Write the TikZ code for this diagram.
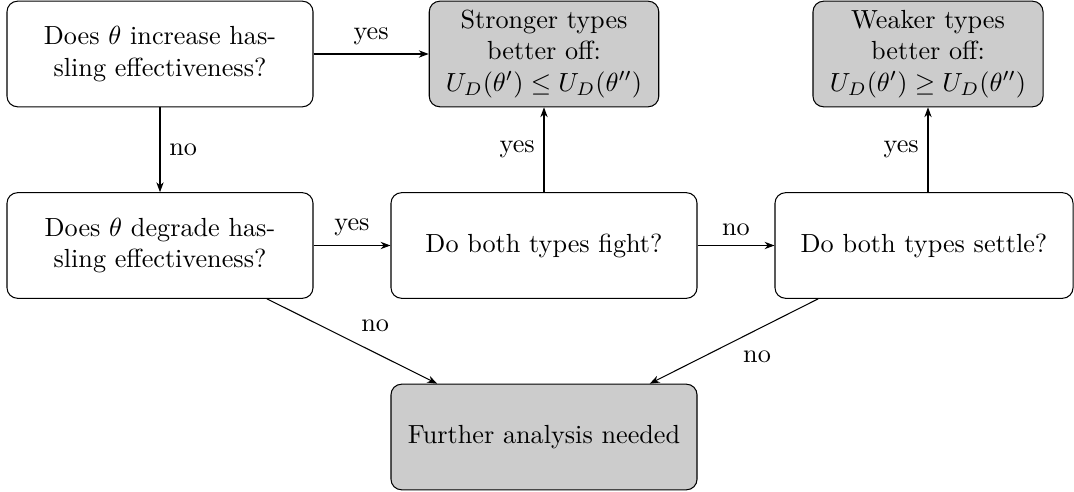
\documentclass[tikz,border=0pt]{standalone}
\usetikzlibrary{arrows.meta}
\begin{document}
\begin{tikzpicture}[x=0.3817pt,y=-0.3817pt,
  box/.style={draw, rounded corners=4pt, align=center, minimum height=40.3pt, inner xsep=3.33pt, inner ysep=2pt},
  result/.style={box, fill=gray!40},
  conn/.style={-{Stealth[length=3.8pt,width=2.8pt]}}]
\useasboundingbox (0,0) rectangle (1074,492);
\node[box, minimum width=116.8pt] (A) at (160,54) {Does $\theta$ increase has-\\sling effectiveness?};
\node[result, minimum width=87.6pt] (B) at (544,54) {Stronger types\\better off:\\$U_D(\theta')\leq U_D(\theta'')$};
\node[result, minimum width=87.8pt] (C) at (928,54) {Weaker types\\better off:\\$U_D(\theta')\geq U_D(\theta'')$};
\node[box, minimum width=116.8pt] (D) at (160,245.5) {Does $\theta$ degrade has-\\sling effectiveness?};
\node[box, minimum width=116.8pt] (E) at (544,245.5) {Do both types fight?};
\node[box, minimum width=113.75pt] (F) at (924,245.5) {Do both types settle?};
\node[result, minimum width=116.8pt] (G) at (544,437) {Further analysis needed};
\draw[conn] (A) -- node[above] (yA) {yes} (B);
\draw[conn] (A) -- node[right] (nA) {no} (D);
\draw[conn] (D) -- node[above] (yD) {yes} (E);
\draw[conn] (E) -- node[above] (nE) {no} (F);
\draw[conn] (E) -- node[left] (yE) {yes} (B);
\draw[conn] (C |- F.north) -- node[left] (yF) {yes} (C.south);
\draw[conn] (D) -- node[above right] (nD) {no} (G);
\draw[conn] (F) -- node[below right] (nF) {no} (G);
\end{tikzpicture}
\end{document}
